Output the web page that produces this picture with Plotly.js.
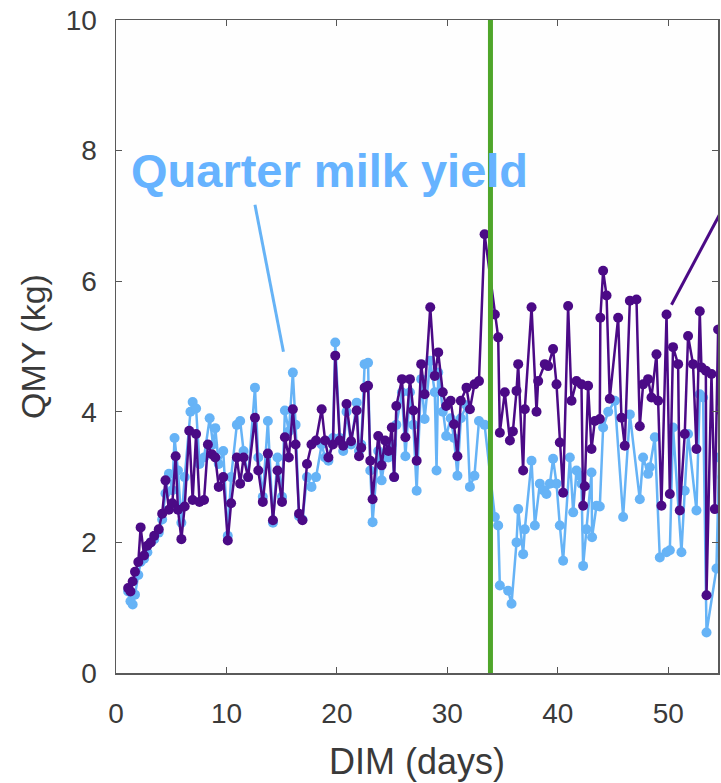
<!DOCTYPE html>
<html>
<head>
<meta charset="utf-8">
<script src="https://cdn.plot.ly/plotly-3.0.1.min.js"></script>
<style>html,body{margin:0;padding:0;background:#fff;}#chart{width:721px;height:783px;}</style>
</head>
<body>
<div id="chart"></div>
<script>
// Day in milk (days) for the dark (purple) quarter series
const dimPurple = [1.10,1.31,1.51,1.72,2.02,2.23,2.54,2.84,3.15,3.46,3.87,4.18,4.48,4.79,5.10,5.40,5.61,5.92,6.22,6.63,6.94,7.25,7.56,7.97,8.32,8.68,8.99,9.30,9.71,10.12,10.42,10.94,11.24,11.55,11.96,12.58,12.88,13.29,13.75,14.21,14.62,15.03,15.29,15.65,16.01,16.26,16.57,16.88,17.29,17.70,18.11,18.62,18.93,19.23,19.64,19.85,20.26,20.57,20.87,21.28,21.79,22.00,22.20,22.51,22.82,23.02,23.23,23.74,24.05,24.36,24.66,24.97,25.18,25.38,25.89,26.20,26.61,26.92,27.22,27.63,27.94,28.45,28.86,29.17,29.58,29.89,30.30,30.60,30.91,31.22,31.73,32.04,32.45,32.86,33.37,
  34.30,34.60,34.75,35.20,35.66,35.93,36.26,36.41,36.86,37.01,37.62,38.07,38.22,38.82,39.12,39.57,39.88,40.18,40.48,40.93,41.24,41.69,42.14,42.29,42.44,42.74,43.05,43.35,43.80,43.85,44.10,44.41,44.70,45.46,45.76,46.06,46.52,47.12,47.42,47.72,48.17,48.48,48.93,49.08,49.38,49.84,50.14,50.43,50.89,51.04,51.49,51.79,52.24,52.55,52.85,53.00,53.40,53.46,53.91,54.21,54.51,54.85];
// Quarter milk yield (kg), dark series
const qmyPurple = [1.30,1.25,1.40,1.55,1.70,2.23,1.80,1.95,2.00,2.10,2.20,2.44,2.95,2.50,2.60,3.32,2.50,2.05,2.55,3.71,2.65,3.66,2.62,2.65,3.50,3.35,3.30,2.85,3.00,2.03,2.60,3.30,2.90,3.30,3.00,3.91,3.10,2.62,3.36,2.34,3.10,2.62,3.61,3.30,4.04,3.50,2.44,2.34,3.20,3.50,3.56,4.04,3.56,3.30,3.50,4.86,3.56,3.48,4.12,3.55,4.02,3.32,3.45,4.37,4.40,3.25,2.66,3.63,3.18,3.56,3.40,3.76,3.00,4.09,4.50,3.61,4.50,4.02,3.25,4.73,4.27,5.60,4.55,4.91,4.30,4.09,4.17,3.81,3.32,4.17,4.37,4.04,4.42,4.47,6.72,
  5.49,5.14,3.68,4.30,3.56,3.70,4.32,4.73,3.10,4.04,5.60,4.00,4.47,4.73,4.70,4.96,4.42,3.53,2.76,5.62,4.17,4.47,4.42,2.56,2.86,4.40,3.43,3.86,3.89,5.44,6.16,5.78,4.20,5.44,3.91,3.48,5.70,5.72,3.78,4.42,4.50,4.22,4.88,4.17,2.56,5.49,2.74,4.99,4.73,2.49,3.66,5.16,4.73,3.43,5.54,4.68,4.63,1.19,4.58,2.51,5.26,4.00];

// Day in milk (days) for the light-blue quarter series
const dimBlue = [1.10,1.31,1.51,1.72,2.02,2.23,2.54,2.84,3.15,3.46,3.87,4.18,4.48,4.79,5.10,5.30,5.61,5.92,6.22,6.74,6.94,7.25,7.56,7.97,8.48,8.79,8.99,9.30,9.71,10.12,10.42,10.94,11.24,11.55,11.96,12.58,12.88,13.29,13.75,14.21,14.62,15.03,15.29,15.65,16.01,16.26,16.57,16.88,17.29,17.70,18.11,18.62,18.93,19.23,19.64,19.85,20.26,20.57,20.87,21.28,21.79,22.00,22.20,22.51,22.82,23.02,23.23,23.74,24.05,24.36,24.66,24.97,25.18,25.38,25.89,26.20,26.61,26.92,27.22,27.63,27.94,28.45,28.86,29.02,29.17,29.58,29.89,30.30,30.60,30.91,31.22,31.73,32.04,32.45,32.86,33.37,
  34.30,34.60,34.75,35.50,35.81,36.26,36.41,36.86,37.01,37.62,37.92,38.37,38.67,38.97,39.28,39.57,39.88,40.18,40.48,41.09,41.39,41.69,41.99,42.14,42.29,42.59,43.05,43.10,43.50,43.80,44.10,44.56,45.16,45.91,46.52,47.42,47.72,48.17,48.33,48.78,49.23,49.84,50.14,50.43,51.19,51.49,51.79,52.55,52.85,53.15,53.46,54.36,54.60,54.90];
// Quarter milk yield (kg), light-blue series
const qmyBlue = [1.25,1.10,1.05,1.20,1.50,1.70,1.75,1.85,2.00,2.05,2.15,2.35,2.75,3.05,2.80,3.60,3.10,2.30,3.00,4.00,4.15,4.05,3.20,3.30,3.90,3.50,3.75,3.20,3.40,2.10,3.00,3.80,3.86,3.40,3.00,4.37,3.30,2.70,3.86,2.30,3.30,2.70,4.02,3.70,4.60,3.80,2.40,2.35,3.00,2.85,3.00,3.50,3.30,3.25,3.60,5.06,3.60,3.40,4.00,3.50,4.14,3.40,3.50,4.73,4.75,3.10,2.31,3.40,2.95,3.30,3.30,3.50,3.00,3.80,4.30,3.32,4.30,3.80,2.79,4.50,3.89,4.78,4.30,3.10,4.60,4.00,3.63,3.90,3.60,3.02,3.90,4.10,2.85,3.02,3.86,3.80,
  2.39,2.26,1.34,1.26,1.06,2.00,2.51,1.82,2.20,3.25,2.26,2.90,2.80,2.74,2.90,3.28,2.90,2.26,1.72,3.30,2.46,3.10,3.02,2.90,1.64,2.20,3.07,2.08,2.56,2.55,3.76,4.00,4.17,2.39,3.96,2.66,3.30,3.05,3.15,3.61,1.77,1.85,1.88,3.76,1.85,2.79,3.66,2.49,4.27,4.22,0.62,1.60,3.30,3.00];

const eventDay = 33.9;
const annotText = 'Quarter milk yield';

const cPurple = '#4b0a86';
const cBlue = '#66b3f6';
const fam = 'Liberation Sans, Arial, sans-serif';
const axisFont = {family: fam, size: 28, color: '#3a3a3a'};

const traces = [
  {x: dimBlue, y: qmyBlue, type: 'scatter', mode: 'lines+markers',
   line: {color: cBlue, width: 2.5}, marker: {color: cBlue, size: 10}, showlegend: false},
  {x: dimPurple, y: qmyPurple, type: 'scatter', mode: 'lines+markers',
   line: {color: cPurple, width: 2.5}, marker: {color: cPurple, size: 10}, showlegend: false}
];

const layout = {
  width: 721, height: 783,
  margin: {l: 116, r: 3, t: 20, b: 110},
  paper_bgcolor: '#ffffff', plot_bgcolor: '#fefefe',
  font: axisFont,
  showlegend: false,
  xaxis: {
    range: [0, 54.5], tickvals: [0,10,20,30,40,50], ticks: 'inside', ticklen: 6, tickcolor: '#555',
    showline: true, mirror: 'ticks', linecolor: '#5a5a5a', linewidth: 1.5,
    showgrid: false, zeroline: false, tickfont: axisFont, ticklabelstandoff: 15,
    title: {text: 'DIM (days)', font: {family: fam, size: 36, color: '#3a3a3a'}, standoff: 20}
  },
  yaxis: {
    range: [0, 10], tickvals: [0,2,4,6,8,10], ticks: 'inside', ticklen: 6, tickcolor: '#555',
    showline: true, mirror: 'ticks', linecolor: '#5a5a5a', linewidth: 1.5,
    showgrid: false, zeroline: false, tickfont: axisFont, ticklabelstandoff: 12,
    title: {text: 'QMY (kg)', font: {family: fam, size: 34, color: '#3a3a3a'}, standoff: 10}
  },
  shapes: [
    {type: 'line', xref: 'x', yref: 'paper', x0: eventDay, x1: eventDay, y0: 0, y1: 1,
     line: {color: '#4fa62a', width: 5}, layer: 'above'},
    {type: 'line', xref: 'x', yref: 'y', x0: 12.58, y0: 7.17, x1: 15.16, y1: 4.92,
     line: {color: cBlue, width: 3}},
    {type: 'line', xref: 'x', yref: 'y', x0: 50.29, y0: 5.64, x1: 55.84, y1: 7.40,
     line: {color: cPurple, width: 3}}
  ],
  annotations: [
    {text: '<b>' + annotText + '</b>', xref: 'x', yref: 'y', x: 19.3, y: 7.69,
     xanchor: 'center', yanchor: 'middle', showarrow: false,
     font: {family: fam, size: 47, color: '#66b3ff'}}
  ]
};

Plotly.newPlot('chart', traces, layout, {displayModeBar: false, staticPlot: true});
</script>
</body>
</html>
